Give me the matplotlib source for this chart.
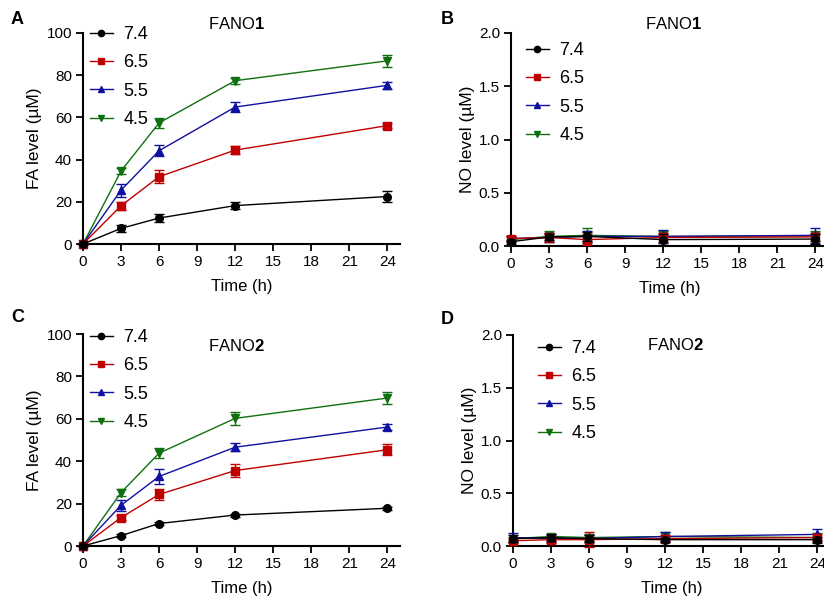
import matplotlib
matplotlib.use("Agg")
import matplotlib.pyplot as plt
from matplotlib.lines import Line2D

plt.rcParams['font.family'] = ['Liberation Sans', 'DejaVu Sans']
plt.rcParams['mathtext.fontset'] = 'custom'
plt.rcParams['mathtext.rm'] = 'Liberation Sans'
plt.rcParams['mathtext.bf'] = 'Liberation Sans:bold'

# Sampling times (h)
time_h = [0, 3, 6, 12, 24]
ph_labels = ["7.4", "6.5", "5.5", "4.5"]
colors = ["#000000", "#c00000", "#1010a0", "#107010"]
markers = ["o", "s", "^", "v"]

# FANO1: formaldehyde release (µM)
fa1_mean = [
    [0, 7.4, 12.3, 18.2, 22.5],
    [0, 18.1, 31.9, 44.5, 56.1],
    [0, 25.5, 44.2, 64.9, 75.2],
    [0, 34.6, 57.4, 77.4, 86.8],
]
fa1_err = [
    [0, 1.6, 2.0, 1.6, 2.6],
    [0, 2.0, 3.0, 2.0, 1.2],
    [0, 3.0, 2.5, 2.5, 1.8],
    [0, 1.5, 2.5, 1.5, 3.0],
]
# FANO1: NO release (µM)
no1_mean = [
    [0.04, 0.085, 0.09, 0.06, 0.065],
    [0.07, 0.08, 0.06, 0.08, 0.085],
    [0.07, 0.08, 0.09, 0.09, 0.10],
    [0.06, 0.09, 0.10, 0.09, 0.095],
]
no1_err = [
    [0.02, 0.03, 0.04, 0.05, 0.05],
    [0.02, 0.04, 0.05, 0.04, 0.04],
    [0.02, 0.04, 0.05, 0.06, 0.07],
    [0.02, 0.05, 0.07, 0.05, 0.05],
]
# FANO2: formaldehyde release (µM)
fa2_mean = [
    [0, 4.9, 10.6, 14.6, 17.8],
    [0, 13.4, 24.3, 35.6, 45.4],
    [0, 19.2, 32.8, 46.6, 56.1],
    [0, 25.2, 43.8, 60.2, 69.8],
]
fa2_err = [
    [0, 0.6, 0.8, 0.7, 0.8],
    [0, 1.2, 2.5, 3.0, 2.5],
    [0, 2.5, 3.5, 2.0, 1.5],
    [0, 1.5, 2.5, 3.0, 3.0],
]
# FANO2: NO release (µM)
no2_mean = [
    [0.07, 0.08, 0.07, 0.06, 0.06],
    [0.05, 0.06, 0.06, 0.07, 0.08],
    [0.08, 0.07, 0.07, 0.09, 0.11],
    [0.07, 0.09, 0.08, 0.09, 0.08],
]
no2_err = [
    [0.03, 0.03, 0.03, 0.02, 0.03],
    [0.02, 0.03, 0.07, 0.03, 0.03],
    [0.04, 0.03, 0.03, 0.04, 0.05],
    [0.02, 0.02, 0.03, 0.04, 0.04],
]

fig = plt.figure(figsize=(8.24, 6.06), dpi=100)
W, H = 824, 606


def px_axes(left, top, right, bottom):
    return fig.add_axes([left / W, 1 - bottom / H, (right - left) / W, (bottom - top) / H])


def draw_panel(ax, means, errs, ymax, yticks, yfmt, ylabel, title, title_xy, letter, letter_xy, leg_xy):
    for i in reversed(range(len(ph_labels))):
        h = ax.errorbar(time_h, means[i], yerr=errs[i], color=colors[i], marker=markers[i],
                        markersize=5.5, linewidth=1.0, elinewidth=1.0, capsize=3.5,
                        capthick=1.0, clip_on=False, zorder=10 - i)
        for art in h.get_children():
            art.set_clip_on(False)
    ax.set_xlim(0, 25)
    ax.set_ylim(0, ymax)
    ax.set_xticks(range(0, 25, 3))
    ax.set_yticks(yticks)
    ax.set_yticklabels([yfmt.format(v) for v in yticks])
    for s in ["top", "right"]:
        ax.spines[s].set_visible(False)
    for s in ["left", "bottom"]:
        ax.spines[s].set_linewidth(1.5)
    ax.tick_params(axis="both", direction="out", length=5, width=1.3, labelsize=11, pad=3)
    ax.set_xlabel("Time (h)", fontsize=12, labelpad=7)
    ax.set_ylabel(ylabel, fontsize=12.5, labelpad=3)
    fig.text(title_xy[0] / W, 1 - title_xy[1] / H, title, fontsize=12, ha="center", va="center")
    fig.text(letter_xy[0] / W, 1 - letter_xy[1] / H, letter, fontsize=13, fontweight="bold",
             ha="left", va="center")
    handles = [Line2D([], [], color=colors[i], marker=markers[i], markersize=4.5, linewidth=1.0)
               for i in range(len(ph_labels))]
    ax.legend(handles, ph_labels, loc="upper left",
              bbox_to_anchor=(leg_xy[0] / W, 1 - leg_xy[1] / H),
              bbox_transform=fig.transFigure, frameon=False, fontsize=13,
              handlelength=1.25, handletextpad=0.6, labelspacing=0.63,
              borderpad=0, borderaxespad=0)


axA = px_axes(83, 33, 400, 244)
draw_panel(axA, fa1_mean, fa1_err, 100, [0, 20, 40, 60, 80, 100], "{:.0f}", "FA level (\u00b5M)",
           r"FANO$\mathbf{1}$", (236, 24), "A", (11, 20), (90, 26))

axB = px_axes(511, 33, 828, 246)
draw_panel(axB, no1_mean, no1_err, 2.0, [0, 0.5, 1.0, 1.5, 2.0], "{:.1f}", "NO level (\u00b5M)",
           r"FANO$\mathbf{1}$", (673, 24), "B", (441, 20), (526, 42))

axC = px_axes(83, 334, 400, 546)
draw_panel(axC, fa2_mean, fa2_err, 100, [0, 20, 40, 60, 80, 100], "{:.0f}", "FA level (\u00b5M)",
           r"FANO$\mathbf{2}$", (236, 346), "C", (11, 318), (90, 329))

axD = px_axes(513, 335, 830, 546)
draw_panel(axD, no2_mean, no2_err, 2.0, [0, 0.5, 1.0, 1.5, 2.0], "{:.1f}", "NO level (\u00b5M)",
           r"FANO$\mathbf{2}$", (675, 345), "D", (441, 320), (538, 340))

fig.savefig("out.png", dpi=100)
